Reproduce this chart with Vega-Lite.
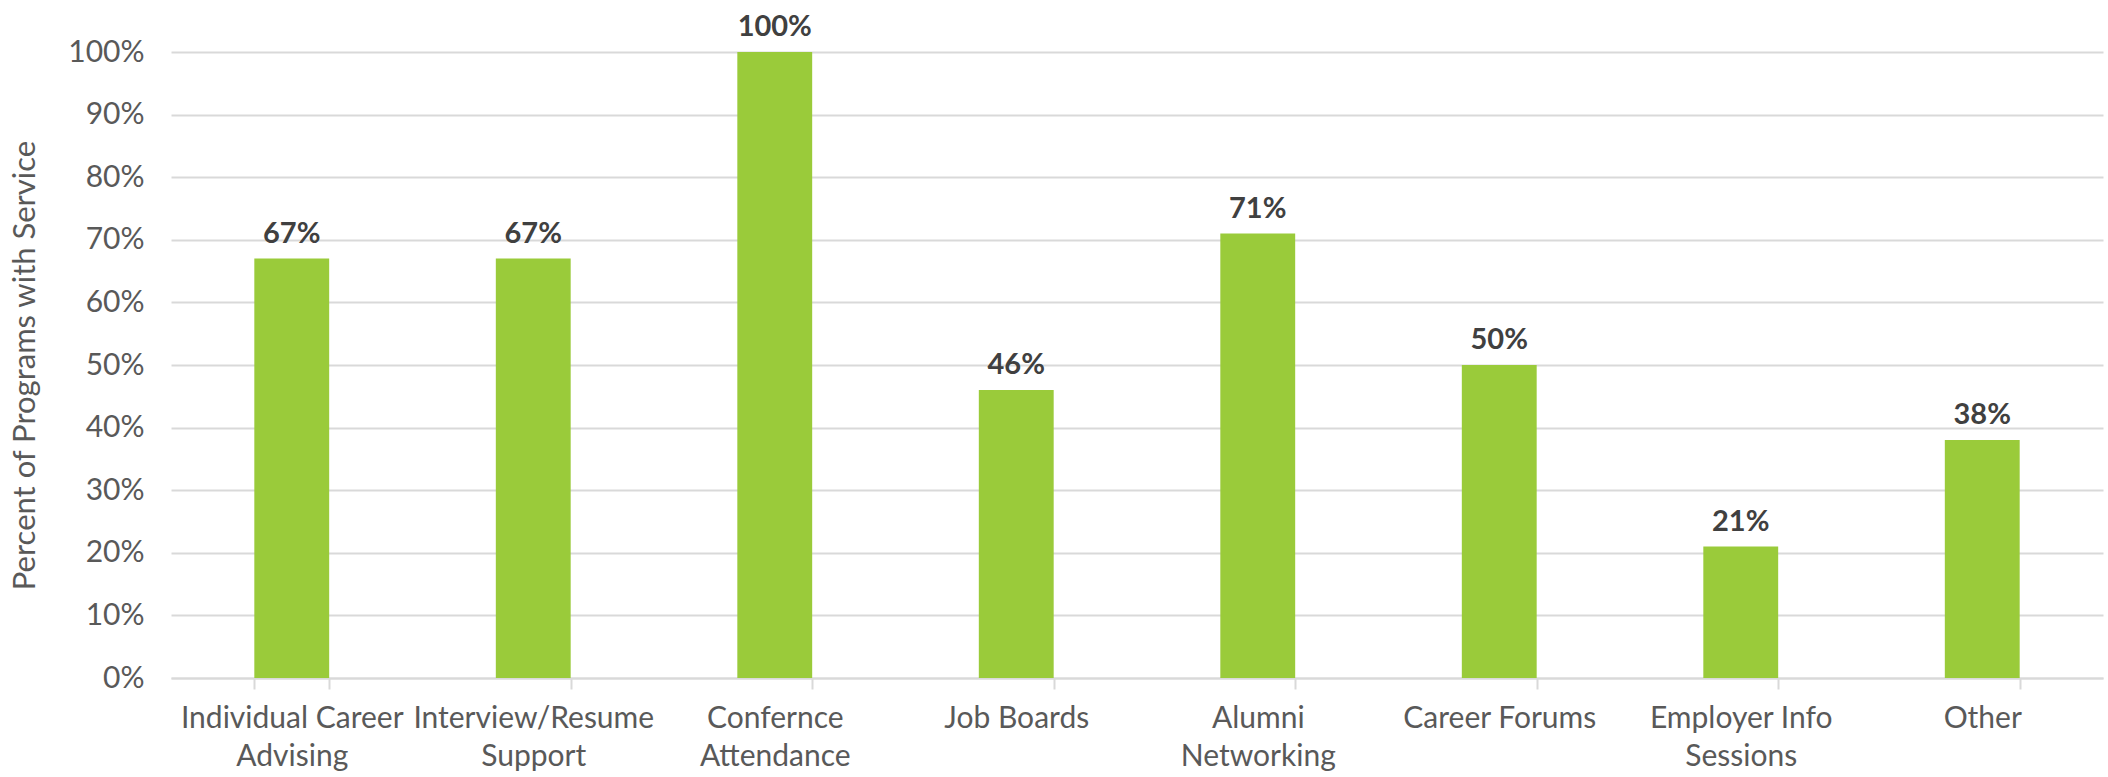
{
  "$schema": "https://vega.github.io/schema/vega-lite/v6.json",
  "autosize": {"type": "none"},
  "width": 1932,
  "height": 626,
  "padding": {"left": 171, "top": 52, "right": 5, "bottom": 99},
  "background": "white",
  "config": {"view": {"stroke": null}, "font": "Lato"},
  "data": {
    "values": [
      {"service": "Individual Career Advising", "pct": 0.67},
      {"service": "Interview/Resume Support", "pct": 0.67},
      {"service": "Confernce Attendance", "pct": 1.0},
      {"service": "Job Boards", "pct": 0.46},
      {"service": "Alumni Networking", "pct": 0.71},
      {"service": "Career Forums", "pct": 0.5},
      {"service": "Employer Info Sessions", "pct": 0.21},
      {"service": "Other", "pct": 0.38}
    ]
  },
  "encoding": {
    "x": {
      "field": "service",
      "type": "nominal",
      "sort": null,
      "scale": {"paddingInner": 0.69, "paddingOuter": 0.345},
      "axis": {
        "title": null,
        "labelAngle": 0,
        "labelFont": "Lato",
        "labelFontSize": 30,
        "labelColor": "#595959",
        "labelLimit": 0,
        "labelPadding": 14,
        "labelLineHeight": 38,
        "labelExpr": "datum.label == 'Individual Career Advising' ? ['Individual Career', 'Advising'] : datum.label == 'Interview/Resume Support' ? ['Interview/Resume', 'Support'] : datum.label == 'Confernce Attendance' ? ['Confernce', 'Attendance'] : datum.label == 'Alumni Networking' ? ['Alumni', 'Networking'] : datum.label == 'Employer Info Sessions' ? ['Employer Info', 'Sessions'] : datum.label",
        "domainColor": "#D9D9D9",
        "domainWidth": 2,
        "tickColor": "#D9D9D9",
        "tickWidth": 2,
        "tickSize": 11,
        "tickBand": "extent",
        "grid": false
      }
    },
    "y": {
      "field": "pct",
      "type": "quantitative",
      "scale": {"domain": [0, 1], "nice": false},
      "axis": {
        "title": "Percent of Programs with Service",
        "titleFont": "Lato",
        "titleFontSize": 31,
        "titleFontWeight": "normal",
        "titleColor": "#595959",
        "titlePadding": 26,
        "format": ".0%",
        "values": [0, 0.1, 0.2, 0.3, 0.4, 0.5, 0.6, 0.7, 0.8, 0.9, 1.0],
        "labelFont": "Lato",
        "labelFontSize": 30,
        "labelColor": "#595959",
        "labelPadding": 27,
        "ticks": false,
        "domain": false,
        "grid": true,
        "gridColor": "#D9D9D9",
        "gridWidth": 2
      }
    }
  },
  "layer": [
    {"mark": {"type": "bar", "color": "#9ACB3A"}},
    {
      "mark": {
        "type": "text",
        "dy": -25,
        "font": "Lato",
        "fontSize": 29,
        "fontWeight": "bold",
        "color": "#404040"
      },
      "encoding": {
        "text": {"field": "pct", "type": "quantitative", "format": ".0%"}
      }
    }
  ]
}
